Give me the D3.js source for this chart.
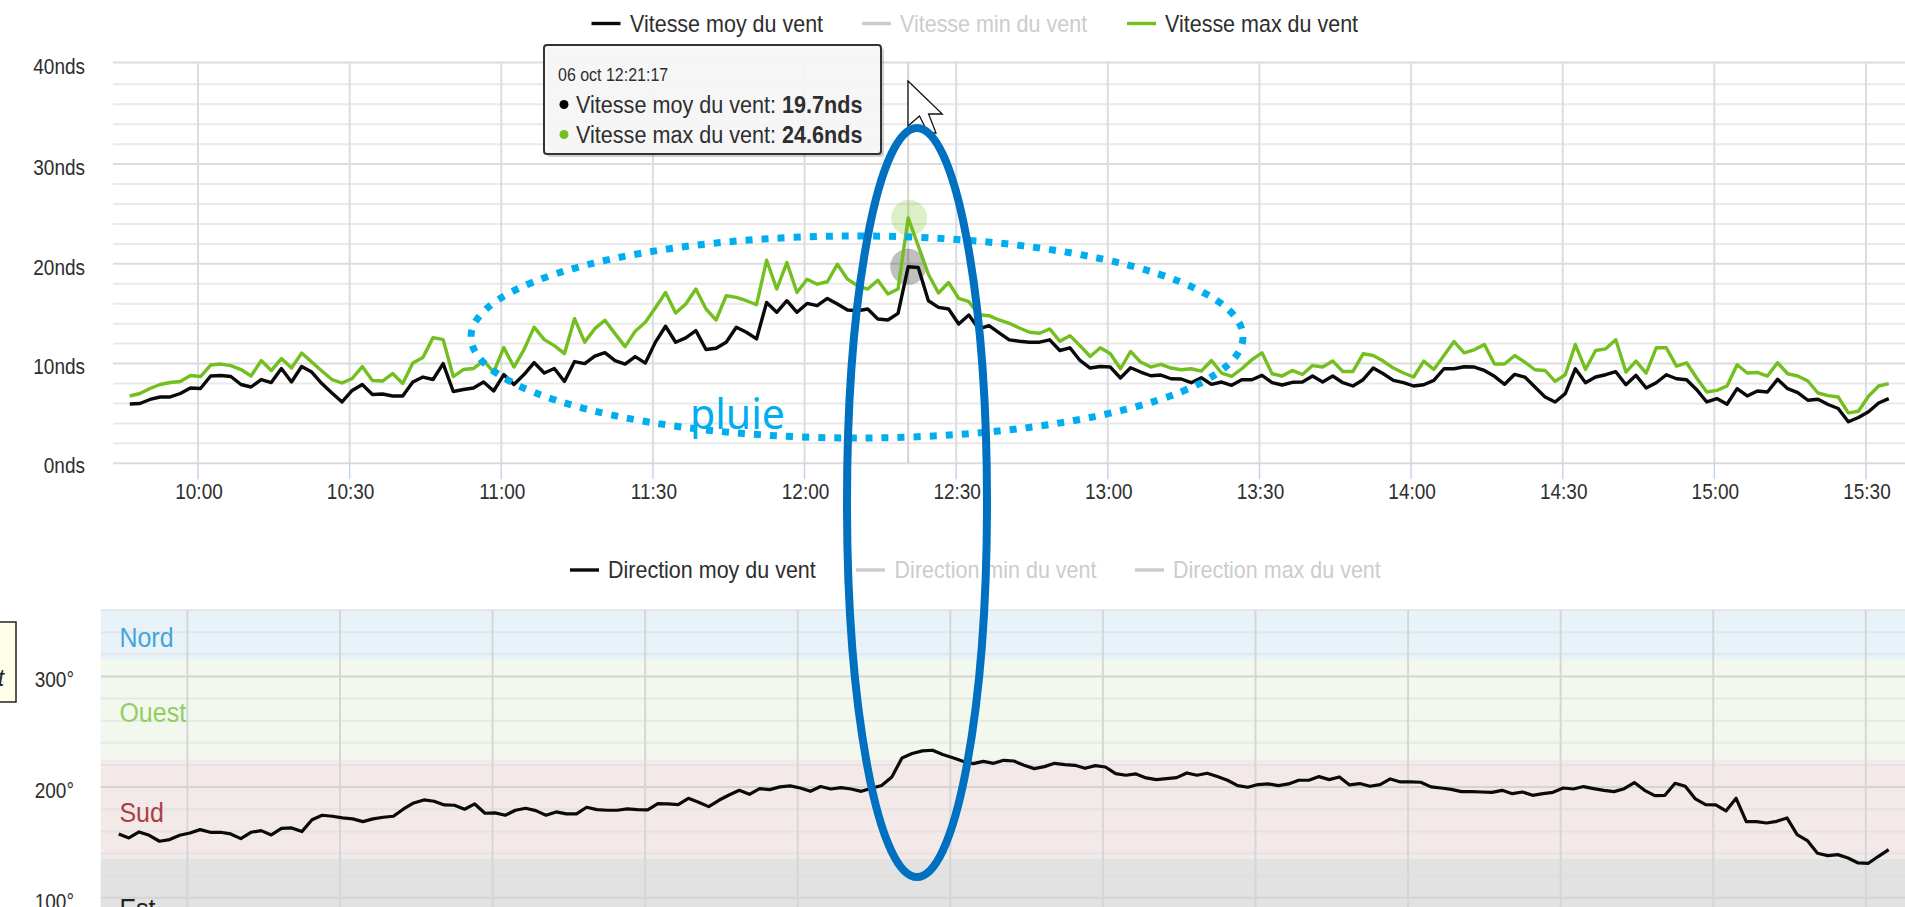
<!DOCTYPE html>
<html><head><meta charset="utf-8">
<script src="https://cdn.jsdelivr.net/npm/d3@7/dist/d3.min.js"></script>
<style>
html,body{margin:0;padding:0;background:#fff;overflow:hidden}
svg{display:block}
text{font-family:"Liberation Sans",Arial,sans-serif}
</style></head><body>
<svg id="c" width="1905" height="907"></svg>
<script>
const timeStart = 586.5, timeStep = 2; // minutes after midnight, one sample every two minutes
const tickLabels = ["10:00","10:30","11:00","11:30","12:00","12:30","13:00","13:30","14:00","14:30","15:00","15:30"];
const speedTicks = [0,10,20,30,40];
const dirTicks = [100,200,300];
const speedLegend = ["Vitesse moy du vent","Vitesse min du vent","Vitesse max du vent"];
const dirLegend = ["Direction moy du vent","Direction min du vent","Direction max du vent"];
const bandNames = ["Nord","Ouest","Sud","Est"];
const bandEdges = [360,315,225,135,45];
const bandFills = ["#e8f3f9","#f3f8ef","#f3e9e9","#e2e2e2"];
const bandText = ["#45a5d6","#92cd62","#ab3f42","#222222"];
const vitesseMoy = [5.95,6.0,6.4,6.65,6.65,7.0,7.55,7.5,8.75,8.8,8.7,7.9,7.65,8.4,8.1,9.5,8.15,9.7,9.15,8.0,7.05,6.15,7.3,7.9,6.9,6.95,6.75,6.75,8.15,8.65,8.4,10.0,7.2,7.4,7.55,8.15,7.25,8.9,7.9,8.9,10.1,9.05,9.5,8.2,10.2,10.0,10.75,11.1,10.3,9.95,10.7,10.05,12.15,13.74,12.14,12.57,13.3,11.41,11.54,12.14,13.64,13.14,12.47,16.13,15.14,16.3,15.14,16.03,15.8,16.53,15.97,15.37,15.3,15.47,14.47,14.37,15.04,19.7,19.63,16.3,15.64,15.47,13.97,14.87,13.47,13.8,13.07,12.38,12.24,12.14,12.14,12.38,11.31,11.58,10.31,9.55,9.71,9.65,8.55,9.58,9.15,8.78,8.85,8.48,8.45,8.08,8.58,7.92,8.15,7.82,8.38,8.38,8.82,8.08,7.85,8.12,8.15,8.75,8.15,8.75,8.08,7.75,8.38,9.55,8.98,8.32,8.08,7.75,7.88,8.32,9.48,9.48,9.68,9.65,9.31,8.72,7.92,8.92,8.65,7.65,6.65,6.15,6.99,9.48,8.08,8.65,8.88,9.18,7.88,8.82,7.55,8.08,8.88,8.48,8.38,7.38,6.15,6.49,5.92,7.48,6.75,7.25,7.15,8.42,7.48,7.09,6.32,6.42,5.9,5.49,4.16,4.59,5.16,6.05,6.49];
const vitesseMax = [6.75,7.0,7.5,7.9,8.1,8.2,8.8,8.7,9.85,9.95,9.8,9.4,8.75,10.3,9.3,10.5,9.55,11.05,10.15,9.25,8.4,8.05,8.5,9.7,8.3,8.25,9.0,8.0,10.05,10.6,12.6,12.4,8.7,9.4,9.5,10.3,9.15,11.6,9.65,11.4,13.65,12.4,11.8,11.0,14.5,12.15,13.5,14.35,13.0,11.7,13.25,14.15,15.6,17.13,15.07,15.97,17.47,15.47,14.37,16.8,16.63,16.3,15.9,20.36,17.47,20.13,17.13,18.46,17.96,18.2,19.96,18.46,17.8,17.47,18.36,16.97,17.47,24.6,21.8,18.96,17.07,18.13,16.53,16.2,14.9,14.8,14.37,14.04,13.57,13.14,13.04,13.47,12.24,12.8,11.8,10.71,11.58,10.98,9.48,11.21,10.15,9.65,9.91,9.55,9.38,9.48,9.25,10.31,9.05,8.72,9.48,10.38,11.08,8.98,8.75,9.31,8.9,9.8,9.65,10.25,9.21,9.21,10.98,10.81,10.25,9.55,9.05,8.65,10.25,9.41,10.8,12.2,11.08,11.38,11.9,9.95,9.95,10.81,10.15,9.38,9.31,8.22,8.88,11.9,9.41,11.31,11.48,12.38,9.15,10.25,9.05,11.58,11.58,9.75,10.08,8.55,7.15,7.31,7.75,9.88,9.05,9.11,8.75,10.08,8.98,8.75,8.25,7.05,6.78,6.65,5.05,5.22,6.72,7.75,7.98];
const directionMoy = [157.7,154.1,159.5,156.5,151.1,152.6,156.5,158.6,161.6,159.2,159.2,157.7,153.5,159.2,160.7,156.8,162.8,163.1,159.8,170.6,174.6,173.7,172.2,171.3,168.8,171.3,172.8,173.7,180.3,185.7,188.4,187.2,183.9,183.6,180,184.8,176.4,176.7,174.6,179.1,180.9,178.8,174.6,177.6,175.8,175.8,181.8,179.7,179.1,179.1,180.3,179.7,179.4,185.1,184.8,184.2,189.9,186.3,182.4,188.1,192.9,197.1,193.5,198.6,197.7,200.2,201.1,199.2,196.2,200.5,198.3,199.5,198.3,196.2,199,201.4,209.2,226.3,230.3,232.7,233.3,229.4,226.6,223.3,221.2,223.3,221.5,224.2,223.6,219.7,216.7,218.5,221.5,220.3,219.7,217,219.4,218.2,212.2,210.7,211.9,208.3,206.8,207.7,208.6,212.8,210.7,212.5,209.5,206.2,201.4,199.9,202.3,202.9,201.4,202.9,206.2,206.2,209.5,206.8,209.2,202,203.2,200.8,202.3,207.4,204.7,204.7,204.4,200.2,199.2,198,195.9,195.9,195.6,195.3,197.1,194.1,195.6,192.6,194.1,195.3,199.2,198.3,200.5,198.6,197.1,195.9,198.6,204.1,197.1,192.3,192.6,203.5,200.8,189.3,184.2,183.9,178.5,189.9,168.8,168.8,167.6,169.1,172.2,157.1,151.7,140.2,138.1,139,136,131.5,131.2,137.5,143.5];
const tooltipDate = "06 oct 12:21:17";
const hoverIndex = 77;

const svg = d3.select("#c");
const W = 1905;
const minutes = l => { const [h,m] = l.split(":").map(Number); return h*60+m; };
const tickMins = tickLabels.map(minutes);
const times = vitesseMoy.map((_,i)=>timeStart+i*timeStep);
const green = "#72bf1f", grey = "#cccccc", ink = "#2e2e2e";

/* ---------- top chart ---------- */
const x1 = d3.scaleLinear().domain([600,930]).range([198,1866]);
const y1 = d3.scaleLinear().domain([0,38,40]).range([463.3,84.3,62.5]);
const g1 = svg.append("g");
g1.selectAll(".minor").data(d3.range(0,41,2).filter(d=>d%10)).join("line")
  .attr("x1",113).attr("x2",W).attr("y1",y1).attr("y2",y1).attr("stroke","#e9e9e9").attr("stroke-width",2);
g1.selectAll(".major").data(speedTicks).join("line")
  .attr("x1",113).attr("x2",W).attr("y1",y1).attr("y2",y1).attr("stroke","#dcdcdc").attr("stroke-width",2);
g1.selectAll(".vg").data(tickMins).join("line")
  .attr("x1",x1).attr("x2",x1).attr("y1",y1(40)).attr("y2",y1(0)).attr("stroke","#dcdde0").attr("stroke-width",2);
g1.selectAll(".vt").data(tickMins).join("line")
  .attr("x1",x1).attr("x2",x1).attr("y1",y1(0)).attr("y2",y1(0)+16).attr("stroke","#c6d6e8").attr("stroke-width",1.5);
g1.selectAll(".xl").data(tickLabels).join("text").text(d=>d)
  .attr("x",d=>x1(minutes(d))+1).attr("y",498.5).attr("text-anchor","middle").attr("font-size",19).attr("fill",ink);
g1.selectAll(".yl").data(speedTicks).join("text").text(d=>d+"nds")
  .attr("x",85).attr("y",d=>y1(d)+(d===0?8.4:d===40?11:10)).attr("text-anchor","end").attr("font-size",19).attr("fill",ink);

// crosshair and hover halos
g1.append("line").attr("x1",x1(times[hoverIndex])).attr("x2",x1(times[hoverIndex]))
  .attr("y1",y1(40)).attr("y2",y1(0)).attr("stroke","#d4d4d4").attr("stroke-width",2);
g1.append("circle").attr("cx",x1(times[hoverIndex])+1).attr("cy",y1(vitesseMax[hoverIndex])).attr("r",18).attr("fill","#72bf1f").attr("opacity",.25);
g1.append("circle").attr("cx",x1(times[hoverIndex])).attr("cy",y1(vitesseMoy[hoverIndex])).attr("r",18).attr("fill","#000").attr("opacity",.25);

const line1 = d3.line().x((d,i)=>x1(times[i])).y(d=>y1(d));
g1.append("path").attr("d",line1(vitesseMax)).attr("fill","none").attr("stroke",green).attr("stroke-width",3.4).attr("stroke-linejoin","round");
g1.append("path").attr("d",line1(vitesseMoy)).attr("fill","none").attr("stroke","#0a0a0a").attr("stroke-width",3.4).attr("stroke-linejoin","round");

function legend(g, items, colors, swX, txX, y, size){
  items.forEach((t,i)=>{
    g.append("line").attr("x1",swX[i]).attr("x2",swX[i]+29).attr("y1",y).attr("y2",y).attr("stroke",colors[i]).attr("stroke-width",3.4);
    g.append("text").text(t).attr("x",txX[i]).attr("y",y+7.5).attr("font-size",size)
     .attr("fill",colors[i]===grey?grey:ink);
  });
}
legend(g1,speedLegend,["#0a0a0a",grey,green],[591.5,862,1127],[630,900,1165],23.5,21.5);

// tooltip
const tip = svg.append("g");
tip.append("rect").attr("x",547).attr("y",48).attr("width",337).attr("height",109).attr("fill","#000").attr("opacity",.18).attr("rx",3);
tip.append("rect").attr("x",544).attr("y",45).attr("width",337).attr("height",109).attr("rx",3)
  .attr("fill","#f9f9f9").attr("fill-opacity",.93).attr("stroke","#333").attr("stroke-width",2);
tip.append("text").text(tooltipDate).attr("x",558).attr("y",80.5).attr("font-size",16).attr("fill",ink);
[[ "#000",speedLegend[0],vitesseMoy[hoverIndex],112 ],[ green,speedLegend[2],vitesseMax[hoverIndex],142 ]].forEach(r=>{
  tip.append("circle").attr("cx",564).attr("cy",r[3]-7.5).attr("r",4.5).attr("fill",r[0]);
  const t = tip.append("text").attr("x",576).attr("y",r[3]).attr("font-size",21.6).attr("fill",ink);
  t.append("tspan").text(r[1]+": ");
  t.append("tspan").text(r[2].toFixed(1)+"nds").attr("font-weight","bold");
});

/* ---------- bottom chart ---------- */
const x2 = d3.scaleLinear().domain([600,930]).range([187.4,1865.8]);
const y2 = d3.scaleLinear().domain([360,45]).range([610,958.7]);
const g2 = svg.append("g");
bandNames.forEach((n,i)=>{
  g2.append("rect").attr("x",100.7).attr("width",W-100.7).attr("y",y2(bandEdges[i])).attr("height",y2(bandEdges[i+1])-y2(bandEdges[i])).attr("fill",bandFills[i]);
});
g2.selectAll(".minor").data(d3.range(60,361,20).filter(d=>d%100)).join("line")
  .attr("x1",100.7).attr("x2",W).attr("y1",y2).attr("y2",y2).attr("stroke","#dedede").attr("stroke-opacity",.6).attr("stroke-width",2);
g2.selectAll(".major").data(dirTicks).join("line")
  .attr("x1",100.7).attr("x2",W).attr("y1",y2).attr("y2",y2).attr("stroke","#d4d4d4").attr("stroke-width",2);
g2.selectAll(".vg").data(tickMins).join("line")
  .attr("x1",x2).attr("x2",x2).attr("y1",y2(360)).attr("y2",907).attr("stroke","#d6d6d8").attr("stroke-width",2);
g2.selectAll(".yl").data(dirTicks).join("text").text(d=>d+"°")
  .attr("x",74).attr("y",d=>y2(d)+10).attr("text-anchor","end").attr("font-size",19).attr("fill",ink);
g2.selectAll(".bl").data(bandNames).join("text").text(d=>d)
  .attr("x",119.4).attr("y",(d,i)=>[646,720.5,820.5,917][i]).attr("font-size",25).attr("fill",(d,i)=>bandText[i]);
const line2 = d3.line().x((d,i)=>x2(times[i])).y(d=>y2(d));
g2.append("path").attr("d",line2(directionMoy)).attr("fill","none").attr("stroke","#0a0a0a").attr("stroke-width",3.2).attr("stroke-linejoin","round");
legend(g2,dirLegend,["#0a0a0a",grey,grey],[570,856,1135],[608,894.6,1173],570,21.5);

// clipped note at the left edge
svg.append("rect").attr("x",-3).attr("y",622).attr("width",19).attr("height",80).attr("fill","#ffffe8").attr("stroke","#222").attr("stroke-width",1.5);
svg.append("text").text("t").attr("x",4).attr("y",685).attr("text-anchor","end").attr("font-size",22).attr("font-style","italic").attr("fill","#222");

// the source screenshot is slightly stretched vertically: match it on the chart's text
svg.selectAll("text").each(function(){
  const s = d3.select(this), y = +s.attr("y"), c = y - 0.36*(+s.attr("font-size"));
  s.attr("transform",`translate(0,${c}) scale(1,1.12) translate(0,${-c})`);
});

/* ---------- hand-drawn annotations ---------- */
const ann = svg.append("g");
ann.append("ellipse").attr("cx",857).attr("cy",337).attr("rx",386).attr("ry",101)
  .attr("fill","none").attr("stroke","#00aeef").attr("stroke-width",7).attr("stroke-dasharray","7 9");
ann.append("text").text("pluie").attr("x",690).attr("y",429).attr("font-size",41)
  .attr("fill","#00aeef").style("font-family","'Noto Sans',sans-serif");
ann.append("path").attr("d","M908,81 L942.3,114 L928.6,114 L936,133 L928,133 L919.5,116 L908,126 Z")
  .attr("fill","#fff").attr("stroke","#111").attr("stroke-width",1.3);
ann.append("ellipse").attr("cx",917).attr("cy",502.5).attr("rx",70).attr("ry",374.5)
  .attr("fill","none").attr("stroke","#0070c0").attr("stroke-width",8);
</script></body></html>
